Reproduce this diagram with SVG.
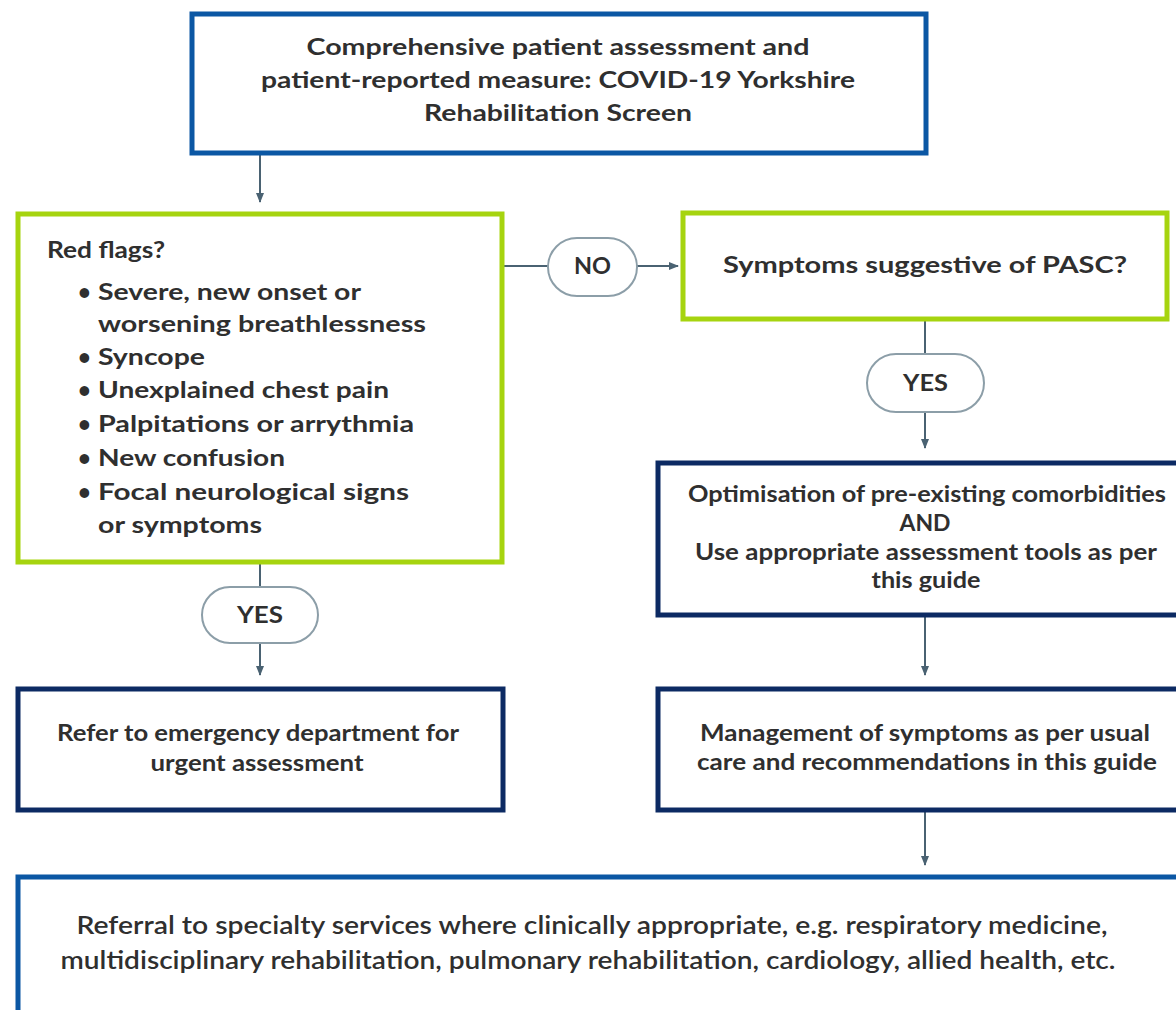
<svg xmlns="http://www.w3.org/2000/svg" width="1176" height="1010" viewBox="0 0 1176 1010">
  <defs>
    <marker id="arrow" viewBox="0 0 10 10" refX="9" refY="5" markerWidth="10" markerHeight="10" markerUnits="userSpaceOnUse" orient="auto">
      <path d="M0,1 L10,5 L0,9 z" fill="#4a6272"/>
    </marker>
    <style>
      text { font-family: Lato, "Noto Sans", "DejaVu Sans", sans-serif; font-weight: bold; font-size: 22px; fill: #2f2f2f; }
      .mid { text-anchor: middle; }
      .blue { fill: #ffffff; stroke: #0b57a4; stroke-width: 5; }
      .navy { fill: #ffffff; stroke: #0c2a63; stroke-width: 5; }
      .green { fill: #ffffff; stroke: #a6d40f; stroke-width: 5; }
      .pill { fill: #ffffff; stroke: #8c9ea8; stroke-width: 2; }
      .link { fill: none; stroke: #4a6272; stroke-width: 2; }
      .cond { font-size: 24px; font-weight: 600; }
    </style>
  </defs>

  <rect width="1176" height="1010" fill="#ffffff"/>

  <!-- connectors -->
  <g id="connectors">
    <path class="link" d="M260,155 V202" marker-end="url(#arrow)"/>
    <path class="link" d="M503,266 H548"/>
    <path class="link" d="M637,266 H678" marker-end="url(#arrow)"/>
    <path class="link" d="M925,320 V354"/>
    <path class="link" d="M925,412 V448" marker-end="url(#arrow)"/>
    <path class="link" d="M260,563 V587"/>
    <path class="link" d="M260,643 V675" marker-end="url(#arrow)"/>
    <path class="link" d="M925,617 V675" marker-end="url(#arrow)"/>
    <path class="link" d="M925,812 V865" marker-end="url(#arrow)"/>
  </g>

  <g id="assessment">
    <rect class="blue" x="192" y="14" width="734" height="139"/>
    <text class="mid" x="558" y="55" textLength="503" lengthAdjust="spacingAndGlyphs">Comprehensive patient assessment and</text>
    <text class="mid" x="558" y="88" textLength="594" lengthAdjust="spacingAndGlyphs">patient-reported measure: COVID-19 Yorkshire</text>
    <text class="mid" x="558" y="121" textLength="268" lengthAdjust="spacingAndGlyphs">Rehabilitation Screen</text>
  </g>

  <g id="red-flags">
    <rect class="green" x="18" y="214" width="484" height="348"/>
    <text x="47" y="258" textLength="118" lengthAdjust="spacingAndGlyphs">Red flags?</text>
    <g>
      <text x="78" y="300">•</text><text x="98" y="300" textLength="263" lengthAdjust="spacingAndGlyphs">Severe, new onset or</text>
      <text x="98" y="332" textLength="328" lengthAdjust="spacingAndGlyphs">worsening breathlessness</text>
      <text x="78" y="365">•</text><text x="98" y="365" textLength="107" lengthAdjust="spacingAndGlyphs">Syncope</text>
      <text x="78" y="398">•</text><text x="98" y="398" textLength="291" lengthAdjust="spacingAndGlyphs">Unexplained chest pain</text>
      <text x="78" y="432">•</text><text x="98" y="432" textLength="316" lengthAdjust="spacingAndGlyphs">Palpitations or arrythmia</text>
      <text x="78" y="466">•</text><text x="98" y="466" textLength="187" lengthAdjust="spacingAndGlyphs">New confusion</text>
      <text x="78" y="500">•</text><text x="98" y="500" textLength="311" lengthAdjust="spacingAndGlyphs">Focal neurological signs</text>
      <text x="98" y="533" textLength="164" lengthAdjust="spacingAndGlyphs">or symptoms</text>
    </g>
  </g>

  <g id="no-label">
    <rect class="pill" x="548" y="238" width="89" height="58" rx="29"/>
    <text class="mid" x="592.5" y="274" textLength="37" lengthAdjust="spacingAndGlyphs">NO</text>
  </g>

  <g id="pasc">
    <rect class="green" x="683" y="213" width="484" height="106"/>
    <text class="mid" x="925" y="273" textLength="404" lengthAdjust="spacingAndGlyphs">Symptoms suggestive of PASC?</text>
  </g>

  <g id="yes-right">
    <rect class="pill" x="867" y="354" width="117" height="58" rx="29"/>
    <text class="mid" x="925.5" y="391" textLength="45" lengthAdjust="spacingAndGlyphs">YES</text>
  </g>

  <g id="optimisation">
    <rect class="navy" x="658" y="463" width="530" height="152"/>
    <text class="mid" x="927" y="502" textLength="478" lengthAdjust="spacingAndGlyphs">Optimisation of pre-existing comorbidities</text>
    <text class="mid" x="925" y="531" textLength="51" lengthAdjust="spacingAndGlyphs">AND</text>
    <text class="mid" x="926" y="560" textLength="462" lengthAdjust="spacingAndGlyphs">Use appropriate assessment tools as per</text>
    <text class="mid" x="926" y="588" textLength="109" lengthAdjust="spacingAndGlyphs">this guide</text>
  </g>

  <g id="yes-left">
    <rect class="pill" x="202" y="587" width="116" height="56" rx="28"/>
    <text class="mid" x="260" y="623" textLength="46" lengthAdjust="spacingAndGlyphs">YES</text>
  </g>

  <g id="emergency">
    <rect class="navy" x="18" y="689" width="485" height="121"/>
    <text class="mid" x="258" y="741" textLength="402" lengthAdjust="spacingAndGlyphs">Refer to emergency department for</text>
    <text class="mid" x="257" y="771" textLength="213" lengthAdjust="spacingAndGlyphs">urgent assessment</text>
  </g>

  <g id="management">
    <rect class="navy" x="658" y="689" width="530" height="121"/>
    <text class="mid" x="925" y="741" textLength="450" lengthAdjust="spacingAndGlyphs">Management of symptoms as per usual</text>
    <text class="mid" x="927" y="770" textLength="460" lengthAdjust="spacingAndGlyphs">care and recommendations in this guide</text>
  </g>

  <g id="referral">
    <rect class="blue" x="18" y="877" width="1170" height="150"/>
    <text class="mid cond" x="592" y="934" textLength="1031" lengthAdjust="spacingAndGlyphs">Referral to specialty services where clinically appropriate, e.g. respiratory medicine,</text>
    <text class="mid cond" x="588" y="969" textLength="1055" lengthAdjust="spacingAndGlyphs">multidisciplinary rehabilitation, pulmonary rehabilitation, cardiology, allied health, etc.</text>
  </g>
</svg>
